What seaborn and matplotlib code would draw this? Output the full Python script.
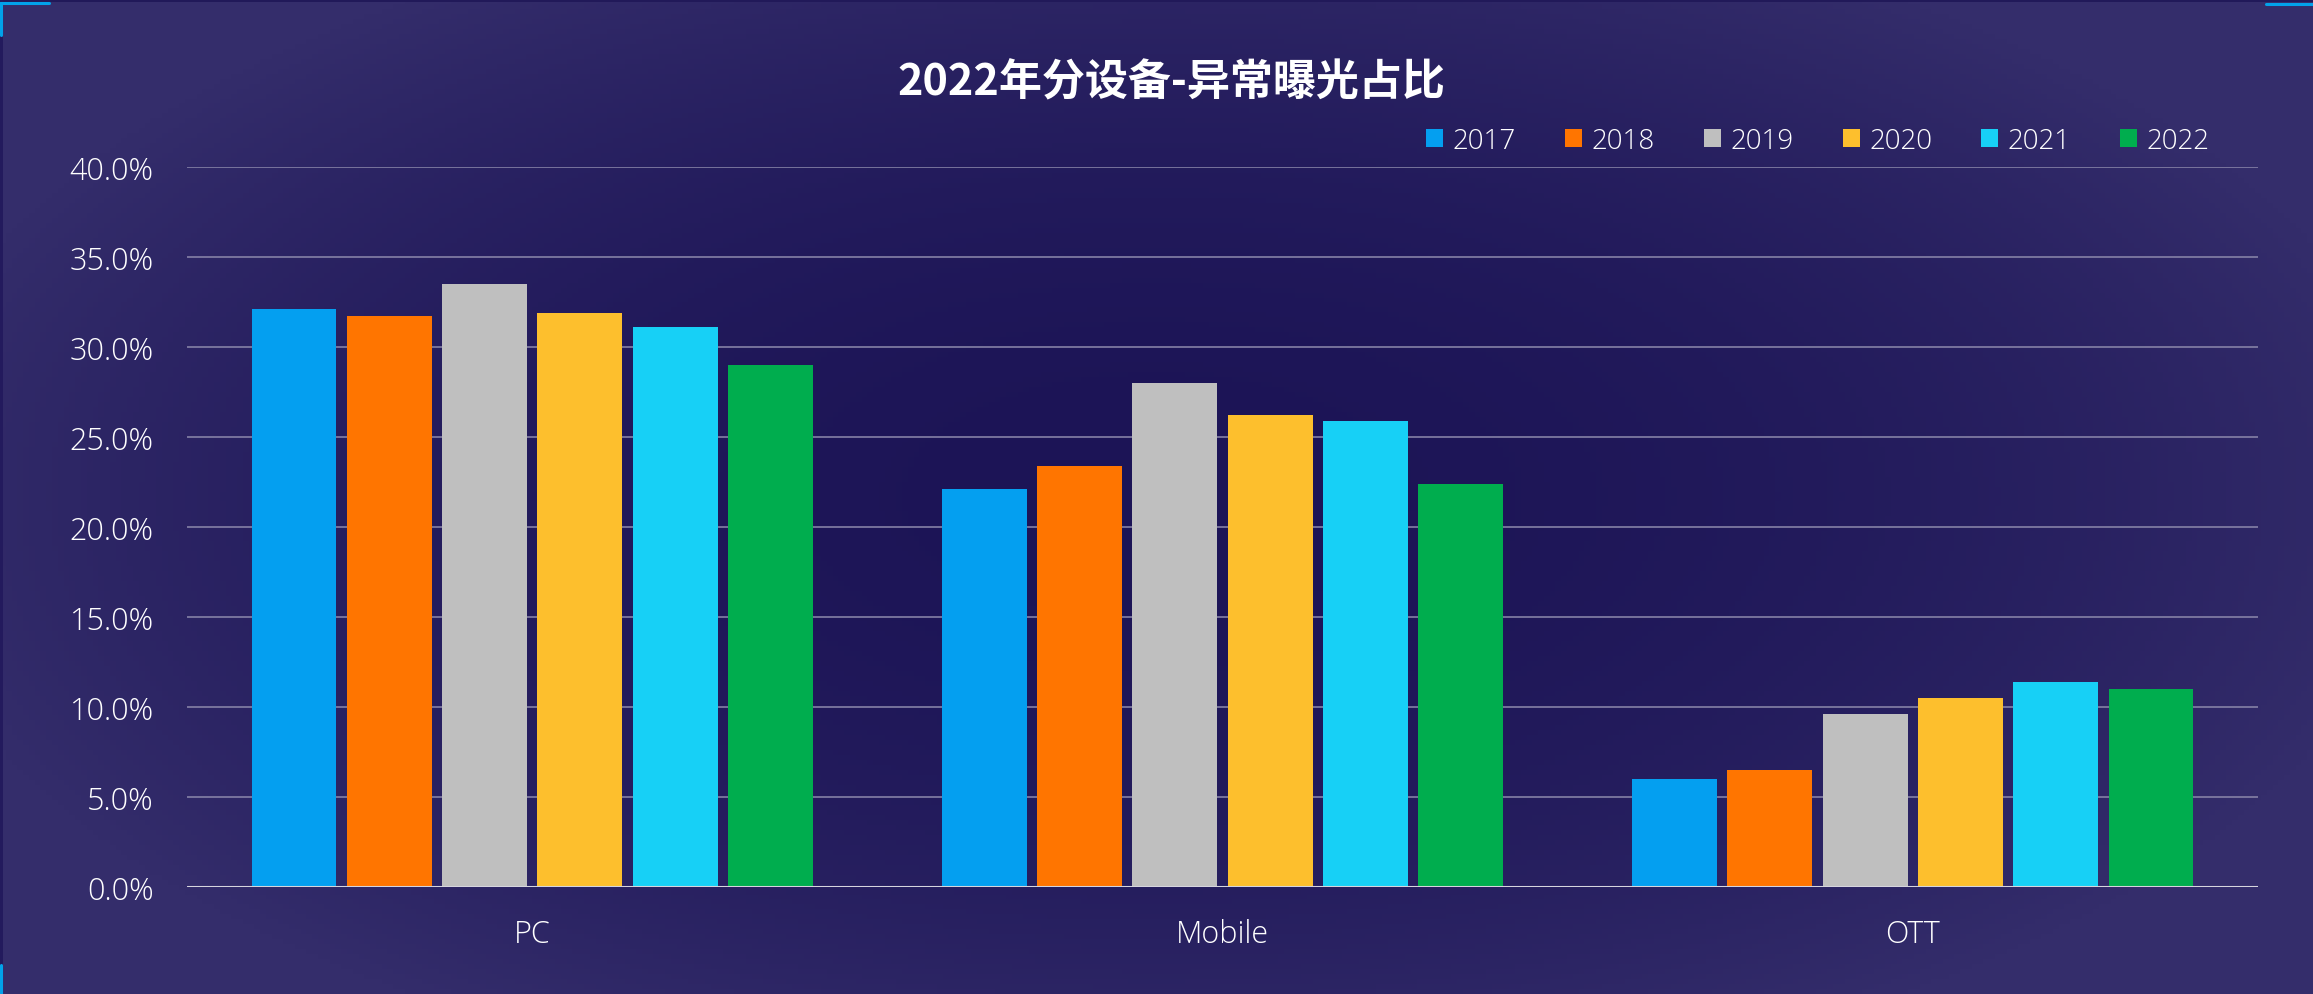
import numpy as np
import pandas as pd
import seaborn as sns
import matplotlib.pyplot as plt
from matplotlib.colors import to_rgb
from matplotlib.lines import Line2D
from matplotlib.patches import Rectangle

devices = ['PC', 'Mobile', 'OTT']
years = ['2017', '2018', '2019', '2020', '2021', '2022']
pc = [32.1, 31.7, 33.5, 31.9, 31.1, 29.0]
mobile = [22.1, 23.4, 28.0, 26.2, 25.9, 22.4]
ott = [6.0, 6.5, 9.6, 10.5, 11.4, 11.0]
yticks = [0, 5, 10, 15, 20, 25, 30, 35, 40]
colors = ['#049ff0', '#ff7500', '#bfbfbf', '#fdbf2d', '#17d0f6', '#00ad4e']

rows = []
for dev, vals in zip(devices, [pc, mobile, ott]):
    for yr, v in zip(years, vals):
        rows.append({'device': dev, 'year': yr, 'value': v})
df = pd.DataFrame(rows)

sns.set_style('white')
plt.rcParams['font.family'] = ['Open Sans', 'Lato', 'DejaVu Sans']
txt = 'white'

fig = plt.figure(figsize=(23.13, 9.95), dpi=100)

# background gradient
bg = fig.add_axes([0, 0, 1, 1], zorder=-10)
xx, yy = np.meshgrid(np.linspace(0, 1, 400), np.linspace(0, 1, 200))
t = np.clip(np.sqrt(((xx - 0.5) / 0.55) ** 2 + ((yy - 0.5) / 0.62) ** 2), 0, 1) ** 2
c0 = np.array(to_rgb('#1c1456'))
c1 = np.array(to_rgb('#342d6b'))
img = c0[None, None, :] * (1 - t[..., None]) + c1[None, None, :] * t[..., None]
bg.imshow(img, extent=[0, 1, 0, 1], aspect='auto', origin='lower')
bg.set_axis_off()

# frame strips and blue corner marks
fig.add_artist(Rectangle((0, 1 - 3 / 995), 1, 3 / 995, transform=fig.transFigure, color='#211959', lw=0))
fig.add_artist(Rectangle((0, 0), 2.5 / 2313, 1, transform=fig.transFigure, color='#231a5d', lw=0))
blue = '#02a2ea'
fig.add_artist(Line2D([0, 49 / 2313], [1 - 4 / 995] * 2, transform=fig.transFigure, color=blue, lw=2.2))
fig.add_artist(Line2D([1 / 2313] * 2, [1 - 4 / 995, 1 - 36 / 995], transform=fig.transFigure, color=blue, lw=2.2))
fig.add_artist(Line2D([2266 / 2313, 1], [1 - 4.5 / 995] * 2, transform=fig.transFigure, color=blue, lw=2.2))
fig.add_artist(Line2D([1 / 2313] * 2, [0, 29 / 995], transform=fig.transFigure, color=blue, lw=2.2))

ax = fig.add_axes([187 / 2313, 107 / 995, 2071 / 2313, 720 / 995])
ax.set_facecolor('none')

sns.barplot(data=df, x='device', y='value', hue='year', palette=colors, saturation=1,
            width=0.828, gap=0.108, ax=ax, zorder=3, linewidth=0)

ax.set_ylim(0, 40)
ax.set_xlim(-0.5, 2.5)
ax.set_yticks(yticks)
ax.set_yticklabels([f'{v:.1f}%' for v in yticks])
ax.set_xlabel('')
ax.set_ylabel('')

for v in yticks[1:]:
    ax.axhline(v, color='#8581a6', lw=1.2, zorder=1)
ax.axhline(0, color='#d6d5de', lw=2.2, zorder=4)

for s in ax.spines.values():
    s.set_visible(False)
ax.tick_params(axis='y', length=0, pad=24, labelsize=22, labelcolor=txt)
ax.tick_params(axis='x', length=0, pad=22, labelsize=22, labelcolor=txt)
for lab in ax.get_xticklabels() + ax.get_yticklabels():
    lab.set_fontweight('light')

handles, labels = ax.get_legend_handles_labels()
ax.legend(handles, labels, ncol=6, frameon=False, loc='center', bbox_to_anchor=(1818 / 2313, 1 - 142 / 995),
          bbox_transform=fig.transFigure, handlelength=0.6, handleheight=0.6,
          handletextpad=0.35, columnspacing=1.77, labelcolor=txt,
          prop={'size': 20, 'weight': 'light'})

fig.text(1171 / 2313, 1 - 82 / 995, '2022年分设备-异常曝光占比', ha='center', va='center',
         fontsize=31, color='white', fontweight='bold',
         family=['Noto Sans CJK SC', 'DejaVu Sans'])

fig.savefig('out.png', dpi=100)
